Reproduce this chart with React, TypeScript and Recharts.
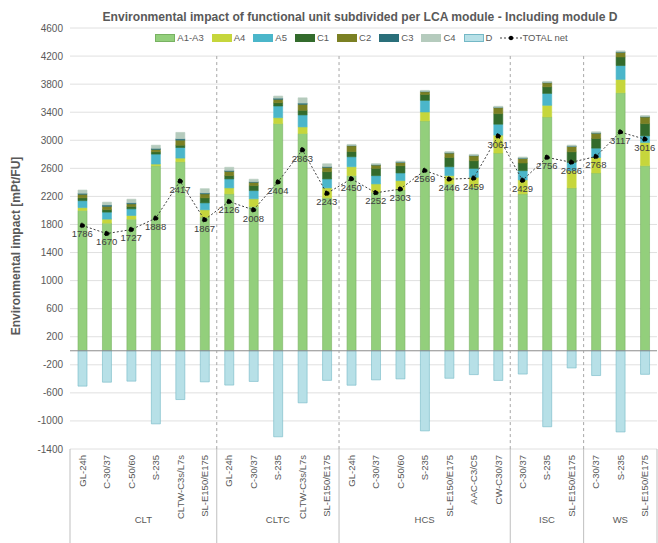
import {
  Bar,
  CartesianGrid,
  ComposedChart,
  LabelList,
  Line,
  ReferenceLine,
  XAxis,
  YAxis,
} from "recharts";

const GROUPS = ["CLT", "CLTC", "HCS", "ISC", "WS"];
const GROUP_SIZES = [6, 5, 7, 3, 3];
const SYSTEMS = [
  "GL-24h", "C-30/37", "C-50/60", "S-235", "CLTW-C3s/L7s", "SL-E150/E175",
  "GL-24h", "C-30/37", "S-235", "CLTW-C3s/L7s", "SL-E150/E175",
  "GL-24h", "C-30/37", "C-50/60", "S-235", "SL-E150/E175", "AAC-C3/C5", "CW-C30/37",
  "C-30/37", "S-235", "SL-E150/E175",
  "C-30/37", "S-235", "SL-E150/E175",
];

// module values per system [mPt/FU]
const A1_A3 = [2000, 1819, 1876, 2637, 2694, 1905, 2236, 2056, 3237, 3096, 2179, 2496, 2259, 2293, 3276, 2378, 2330, 2818, 2236, 3332, 2321, 2534, 3677, 2637];
const A4 = [40, 57, 52, 24, 52, 104, 85, 109, 85, 94, 142, 127, 119, 132, 127, 118, 142, 255, 199, 166, 246, 221, 190, 331];
const A5 = [100, 100, 95, 142, 151, 99, 128, 118, 166, 171, 128, 142, 118, 109, 166, 127, 127, 156, 132, 170, 117, 133, 198, 95];
const C1 = [40, 35, 33, 33, 33, 71, 47, 71, 47, 66, 103, 75, 104, 103, 85, 132, 109, 150, 109, 94, 152, 137, 122, 174];
const C2 = [50, 47, 38, 33, 72, 57, 61, 46, 48, 85, 62, 81, 47, 47, 37, 63, 71, 85, 65, 57, 75, 76, 67, 95];
const C3 = [15, 20, 16, 16, 20, 14, 13, 10, 17, 18, 11, 5, 5, 5, 5, 5, 5, 5, 5, 5, 5, 5, 5, 5];
const C4 = [45, 40, 50, 45, 90, 60, 45, 35, 30, 75, 40, 15, 15, 15, 15, 15, 15, 15, 15, 15, 15, 15, 15, 15];
const D = [-504, -448, -433, -1042, -695, -443, -489, -437, -1226, -742, -422, -491, -415, -401, -1142, -392, -340, -423, -332, -1083, -245, -353, -1157, -336];
const TOTAL_NET = [1786, 1670, 1727, 1888, 2417, 1867, 2126, 2008, 2404, 2863, 2243, 2450, 2252, 2303, 2569, 2446, 2459, 3061, 2429, 2756, 2686, 2768, 3117, 3016];

const Y_TICKS = [-1400, -1000, -600, -200, 200, 600, 1000, 1400, 1800, 2200, 2600, 3000, 3400, 3800, 4200, 4600];

const SERIES = [
  { key: "a13", name: "A1-A3", fill: "#93cf7c", stroke: "#78b262" },
  { key: "a4", name: "A4", fill: "#c6d63c", stroke: "#c6d63c" },
  { key: "a5", name: "A5", fill: "#4bb6ca", stroke: "#4bb6ca" },
  { key: "c1", name: "C1", fill: "#336b2c", stroke: "#336b2c" },
  { key: "c2", name: "C2", fill: "#7b8023", stroke: "#7b8023" },
  { key: "c3", name: "C3", fill: "#2a6f7a", stroke: "#2a6f7a" },
  { key: "c4", name: "C4", fill: "#b5cbbd", stroke: "#b5cbbd" },
  { key: "d", name: "D", fill: "#b7e0e7", stroke: "#74b8c6" },
];

const data = SYSTEMS.map((name, i) => ({
  id: `${i}`,
  name,
  a13: A1_A3[i],
  a4: A4[i],
  a5: A5[i],
  c1: C1[i],
  c2: C2[i],
  c3: C3[i],
  c4: C4[i],
  d: D[i],
  total: TOTAL_NET[i],
}));

const W = 658;
const H = 543;
const PLOT_LEFT = 70;
const PLOT_RIGHT = 657;
const PLOT_TOP = 28;
const PLOT_BOTTOM = 449;
const BAND = (PLOT_RIGHT - PLOT_LEFT) / SYSTEMS.length;
const DASH_TOP = PLOT_TOP + ((4600 - 4200) / 6000) * (PLOT_BOTTOM - PLOT_TOP);
const GROUP_START = GROUP_SIZES.map((_, i) =>
  GROUP_SIZES.slice(0, i).reduce((a, b) => a + b, 0)
);
const FONT = "'Liberation Sans', Arial, sans-serif";
const TEXT = "#595959";

function CategoryTick(props: any) {
  const { x, payload } = props;
  const i = payload.index;
  const g = GROUP_START.indexOf(i);
  const left = x - BAND / 2;
  const right = x + BAND / 2;
  return (
    <g>
      <text
        transform={`translate(${x + 3.5},${PLOT_BOTTOM + 6}) rotate(-90)`}
        textAnchor="end"
        fontSize={9.5}
        fontFamily={FONT}
        fill={TEXT}
      >
        {SYSTEMS[i]}
      </text>
      {g >= 0 && (
        <>
          <line x1={left} x2={left} y1={PLOT_BOTTOM} y2={H} stroke="#bfbfbf" />
          {g > 0 && (
            <line
              x1={left}
              x2={left}
              y1={DASH_TOP}
              y2={PLOT_BOTTOM}
              stroke="#a6a6a6"
              strokeDasharray="3 3"
            />
          )}
          <text
            x={left + (GROUP_SIZES[g] * BAND) / 2}
            y={523}
            textAnchor="middle"
            fontSize={9.5}
            fontFamily={FONT}
            fill={TEXT}
          >
            {GROUPS[g]}
          </text>
        </>
      )}
      {i === SYSTEMS.length - 1 && (
        <line x1={right} x2={right} y1={PLOT_BOTTOM} y2={H} stroke="#bfbfbf" />
      )}
    </g>
  );
}

function LegendRow() {
  return (
    <div
      style={{
        position: "absolute",
        top: 32,
        left: 0,
        width: W,
        display: "flex",
        justifyContent: "center",
        alignItems: "center",
        fontFamily: FONT,
        fontSize: 9.5,
        color: TEXT,
        paddingLeft: 65,
        boxSizing: "border-box",
      }}
    >
      {SERIES.map((s) => (
        <div key={s.key} style={{ display: "flex", alignItems: "center", marginRight: 8 }}>
          <span
            style={{
              display: "inline-block",
              width: 18,
              height: 6,
              background: s.fill,
              border: `1px solid ${s.stroke}`,
              marginRight: 2,
            }}
          />
          {s.name}
        </div>
      ))}
      <div style={{ display: "flex", alignItems: "center" }}>
        <svg width={22} height={8}>
          <line x1={0} x2={22} y1={4} y2={4} stroke="#404040" strokeDasharray="2 2" />
          <circle cx={11} cy={4} r={2.2} fill="#000" />
        </svg>
        TOTAL net
      </div>
    </div>
  );
}

export default function App() {
  return (
    <div style={{ position: "absolute", left: 0, top: 0, width: W, height: H, background: "#fff" }}>
      <ComposedChart
        width={W}
        height={H}
        data={data}
        stackOffset="sign"
        margin={{ top: PLOT_TOP, right: W - PLOT_RIGHT, bottom: 0, left: 8 }}
      >
        <CartesianGrid vertical={false} stroke="#e0e0e0" />
        <XAxis
          dataKey="id"
          interval={0}
          axisLine={false}
          tickLine={false}
          height={H - PLOT_BOTTOM}
          tick={<CategoryTick />}
        />
        <YAxis
          width={PLOT_LEFT - 8}
          domain={[-1400, 4600]}
          ticks={Y_TICKS}
          axisLine={false}
          tickLine={false}
          tickSize={0}
          tickMargin={7}
          tick={{ fontSize: 10, fill: TEXT, fontFamily: FONT }}
        />
        <ReferenceLine y={0} stroke="#8c8c8c" />
        {SERIES.map((s) => (
          <Bar
            key={s.key}
            dataKey={s.key}
            name={s.name}
            stackId="lca"
            fill={s.fill}
            stroke={s.stroke}
            strokeWidth={0.6}
            barSize={9}
            isAnimationActive={false}
          />
        ))}
        <Line
          dataKey="total"
          name="TOTAL net"
          stroke="#404040"
          strokeWidth={1}
          strokeDasharray="2 2"
          dot={{ r: 2.3, fill: "#000", stroke: "#000" }}
          isAnimationActive={false}
        >
          <LabelList
            dataKey="total"
            position="bottom"
            offset={5}
            fontSize={9.5}
            fontFamily={FONT}
            fill="#404040"
          />
        </Line>
      </ComposedChart>
      <svg width={W} height={H} style={{ position: "absolute", left: 0, top: 0, pointerEvents: "none" }}>
        <text
          x={360}
          y={21}
          textAnchor="middle"
          textLength={515}
          lengthAdjust="spacingAndGlyphs"
          fontSize={13}
          fontWeight="bold"
          fontFamily={FONT}
          fill={TEXT}
        >
          Environmental impact of functional unit subdivided per LCA module - Including module D
        </text>
        <text
          transform="translate(20,246) rotate(-90)"
          textAnchor="middle"
          fontSize={12}
          fontWeight="bold"
          fontFamily={FONT}
          fill={TEXT}
        >
          Environmental impact [mPt/FU]
        </text>
      </svg>
      <LegendRow />
    </div>
  );
}
